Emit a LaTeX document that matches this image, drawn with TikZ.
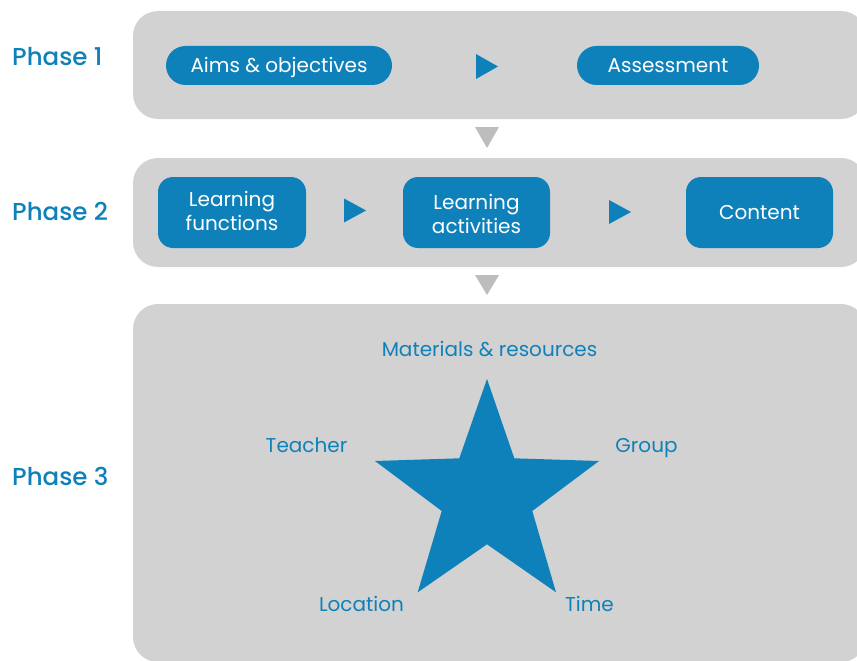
\documentclass[tikz,border=0pt]{standalone}
\usepackage{fontspec}
\setmainfont{Poppins}
\newfontfamily\phasefont{Poppins Medium}
\definecolor{bblue}{HTML}{0F81BA}
\definecolor{panelgray}{HTML}{D1D2D1}
\definecolor{trigray}{HTML}{BCBDBC}
\begin{document}
\begin{tikzpicture}[x=1pt,y=-1pt,
  panel/.style={fill=panelgray, rounded corners=25pt, inner sep=0pt, draw=none},
  pill/.style={fill=bblue, text=white, rounded corners=19.5pt, inner sep=0pt, minimum height=39pt, text height=14pt, text depth=0pt, font=\fontsize{20}{23}\selectfont},
  bbox/.style={fill=bblue, text=white, rounded corners=15pt, inner sep=0pt, minimum width=148pt, minimum height=71pt, align=center, font=\fontsize{20}{23.5}\selectfont},
  phase/.style={text=bblue, font=\fontsize{24.5}{27}\phasefont, anchor=west, inner sep=0pt, text height=17pt, text depth=0pt},
  lbl/.style={text=bblue, font=\fontsize{20}{23}\selectfont, inner sep=0pt, text height=14pt, text depth=0pt},
  playtri/.style={fill=bblue},
  downtri/.style={fill=trigray}
]
\useasboundingbox (0,0) rectangle (857,661);
% panels
\node[panel, minimum width=733pt, minimum height=108pt] (p1) at (499.5,65) {};
\node[panel, minimum width=733pt, minimum height=109pt] (p2) at (499.5,212.5) {};
\node[panel, minimum width=733pt, minimum height=358pt] (p3) at (499.5,483) {};
% phase labels
\node[phase] (ph1) at (12,57) {Phase 1};
\node[phase] (ph2) at (12,212) {Phase 2};
\node[phase] (ph3) at (12,477) {Phase 3};
% phase 1
\node[pill, minimum width=226pt] (aims) at (279,65.5) {Aims \& objectives};
\node[pill, minimum width=182pt] (assess) at (668,65.5) {Assessment};
\fill[playtri] (476,54) -- (476,79) -- (498,66.5) -- cycle;
% phase 2
\node[bbox] (lf) at (232,212.5) {};
\node[font=\fontsize{20}{23.5}\selectfont, text=white, align=center, inner sep=0pt] (lft) at (232,211) {Learning\\functions};
\node[bbox, minimum width=147pt] (la) at (476.5,212.5) {};
\node[font=\fontsize{20}{23.5}\selectfont, text=white, align=center, inner sep=0pt] (lat) at (476.5,214) {Learning\\activities};
\node[bbox, minimum width=147pt, text height=14pt, text depth=0pt] (ct) at (759.5,212.5) {Content};
\fill[playtri] (344,198.5) -- (344,222.5) -- (366,210.5) -- cycle;
\fill[playtri] (609,200) -- (609,224) -- (631,212) -- cycle;
% down triangles
\fill[downtri] (475,127) -- (499,127) -- (487,148) -- cycle;
\fill[downtri] (475,275) -- (499,275) -- (487,295) -- cycle;
% star
\fill[bblue] (487,379) -- (514.3,458.3) -- (599,461) -- (532.3,511) -- (556,592.3)
  -- (487,544.3) -- (417.7,592.3) -- (441.7,511) -- (375,461) -- (459.3,458.3) -- cycle;
% star labels
\node[lbl] (mat) at (489.5,349) {Materials \& resources};
\node[lbl] (tea) at (306.5,445) {Teacher};
\node[lbl] (grp) at (646.5,445) {Group};
\node[lbl] (loc) at (361.5,604) {Location};
\node[lbl] (tim) at (589.5,604) {Time};
\end{tikzpicture}
\end{document}
